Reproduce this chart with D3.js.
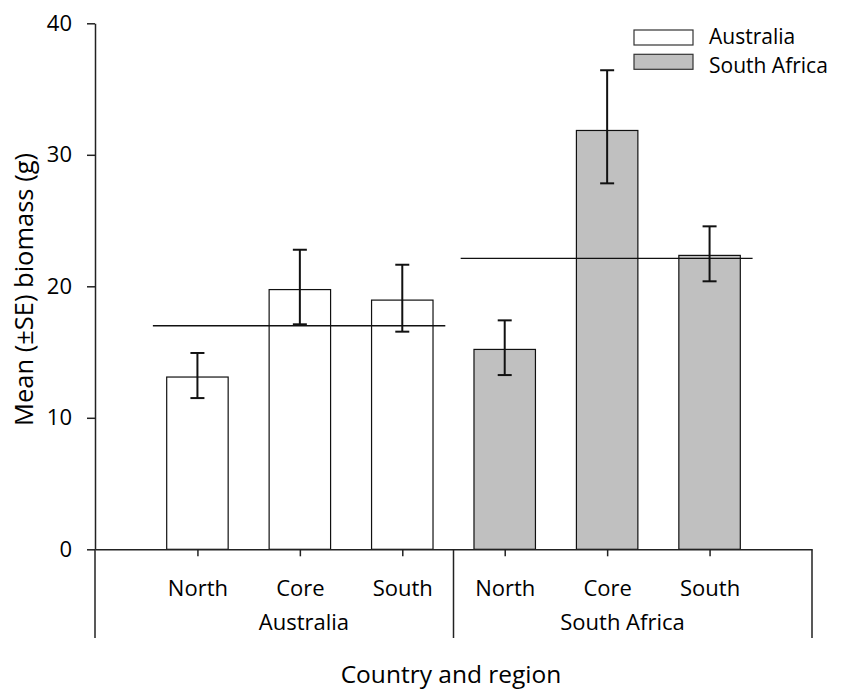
<!DOCTYPE html>
<html><head><meta charset="utf-8">
<script src="https://cdn.jsdelivr.net/npm/d3@7"></script>
<style>body{margin:0;background:#fff}svg{display:block}text{font-family:"Open Sans",sans-serif;fill:#000}</style>
</head><body><svg id="c" width="841" height="689"></svg>
<script>
const regions = ["North","Core","South","North","Core","South"];
const countries = ["Australia","Australia","Australia","South Africa","South Africa","South Africa"];
const means = [13.1, 19.75, 18.95, 15.2, 31.85, 22.35];
const seUpper = [14.93, 22.78, 21.64, 17.41, 36.43, 24.56];
const seLower = [11.5, 17.11, 16.55, 13.25, 27.83, 20.38];
const countryMeans = [17.0, 22.12];
const groupNames = ["Australia","South Africa"];
const yTicks = [0,10,20,30,40];

const svg = d3.select("#c");
const x = d3.scaleLinear().domain([0,7]).range([95,812]);
const y = d3.scaleLinear().domain([0,40]).range([549.3,23.3]);
const bw = 0.6;
const fill = {"Australia":"#ffffff","South Africa":"#c0c0c0"};

// bars
svg.append("g").selectAll("rect").data(means).join("rect")
  .attr("x",(d,i)=>x(i+1-bw/2)).attr("width",x(bw)-x(0))
  .attr("y",d=>y(d)).attr("height",d=>y(0)-y(d))
  .attr("fill",(d,i)=>fill[countries[i]]).attr("stroke","#111").attr("stroke-width",1.2);

// country mean lines
const lineExt = [[0.565,3.42],[3.57,6.42]];
svg.append("g").selectAll("line").data(countryMeans).join("line")
  .attr("x1",(d,i)=>x(lineExt[i][0])).attr("x2",(d,i)=>x(lineExt[i][1]))
  .attr("y1",d=>y(d)).attr("y2",d=>y(d)).attr("stroke","#111").attr("stroke-width",1.4);

// error bars
const eg = svg.append("g").attr("stroke","#111").attr("stroke-width",2);
means.forEach((m,i)=>{
  const cx = x(i+1);
  eg.append("line").attr("x1",cx).attr("x2",cx).attr("y1",y(seUpper[i])).attr("y2",y(seLower[i]));
  [seUpper[i],seLower[i]].forEach(v=>eg.append("line").attr("x1",cx-7).attr("x2",cx+7).attr("y1",y(v)).attr("y2",y(v)));
});

// y axis
const ya = svg.append("g").attr("transform","translate(95,0)")
  .call(d3.axisLeft(y).tickValues(yTicks).tickSize(8).tickPadding(15).tickSizeOuter(0));
ya.select(".domain").attr("stroke","#222").attr("stroke-width",1.5);
ya.selectAll(".tick line").attr("stroke","#222").attr("stroke-width",1.5);
ya.selectAll(".tick text").style("font-family","'Open Sans',sans-serif").style("font-size","22px").attr("fill","#000");

// x axis
const xa = svg.append("g").attr("transform",`translate(0,${y(0)})`)
  .call(d3.axisBottom(x).tickValues(d3.range(1,7)).tickSize(7).tickPadding(24).tickSizeOuter(0)
    .tickFormat((d,i)=>regions[i]));
xa.select(".domain").attr("stroke","#222").attr("stroke-width",1.5);
xa.selectAll(".tick line").attr("stroke","#222").attr("stroke-width",1.5);
xa.selectAll(".tick text").style("font-family","'Open Sans',sans-serif").style("font-size","22px").attr("fill","#000");

// group separators
const seps = [0,3.5,7];
svg.append("g").selectAll("line").data(seps).join("line")
  .attr("x1",d=>x(d)).attr("x2",d=>x(d)).attr("y1",y(0)).attr("y2",638)
  .attr("stroke","#222").attr("stroke-width",1.5);

// group labels
const groupPos = [2.04,5.15];
svg.append("g").selectAll("text").data(groupNames).join("text")
  .attr("x",(d,i)=>x(groupPos[i])).attr("y",630).attr("text-anchor","middle")
  .style("font-size","22px").text(d=>d);

// axis titles
svg.append("text").attr("x",451).attr("y",683).attr("text-anchor","middle").style("font-size","24.5px").text("Country and region");
svg.append("text").attr("transform","translate(33,289.5) rotate(-90)").attr("text-anchor","middle").style("font-size","25.5px").text("Mean (\u00b1SE) biomass (g)");

// legend
const lg = svg.append("g");
groupNames.forEach((g,i)=>{
  lg.append("rect").attr("x",634).attr("y",30+i*24.3).attr("width",59).attr("height",15)
    .attr("fill",fill[g]).attr("stroke","#333").attr("stroke-width",1.2);
  lg.append("text").attr("x",709).attr("y",44+i*29).style("font-size","21px").text(g);
});
</script></body></html>
